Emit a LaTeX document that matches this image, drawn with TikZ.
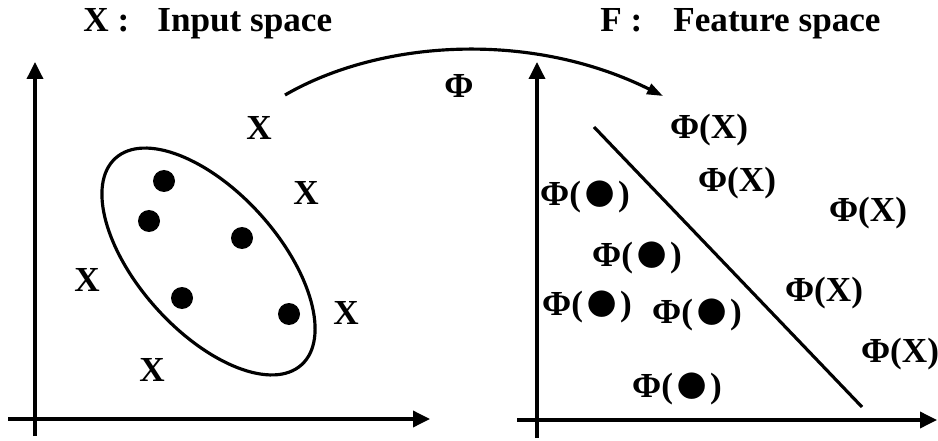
\documentclass[tikz,border=0pt]{standalone}
\usepackage{fontspec}
\setmainfont{Liberation Serif}
\usetikzlibrary{arrows.meta,shapes.geometric}
\tikzset{
  axis/.style={line width=2pt, -{Triangle[length=3.4mm, width=3.2mm]}},
  maparrow/.style={line width=1.8pt, -{Triangle[length=3.2mm, width=2.2mm]}},
  lbl/.style={inner sep=0pt, font=\fontsize{20}{24}\selectfont\bfseries},
  dot/.style={circle, fill=black, inner sep=0pt, minimum size=4.4mm},
  cluster/.style={ellipse, draw, line width=1.8pt, inner sep=0pt, minimum width=5.56cm, minimum height=2.8cm, rotate=-48},
  boundary/.style={line width=1.8pt}
}
\newcommand{\bigdot}{\raisebox{-0.17em}{\scalebox{1.75}{●}}}

\begin{document}
\begin{tikzpicture}[x=0.2mm, y=-0.2mm]
  \useasboundingbox (0,0) rectangle (938,441);
  % titles
  \node[lbl, anchor=base west] (xname) at (83,32) {X :};
  \node[lbl, anchor=base west] (xspace) at (157,32) {Input space};
  \node[lbl, anchor=base west] (fname) at (600,32) {F :};
  \node[lbl, anchor=base west] (fspace) at (673,32) {Feature space};
  % input space
  \coordinate (lx0) at (8,419);
  \coordinate (lx1) at (430,419);
  \coordinate (ly0) at (35,436);
  \coordinate (ly1) at (35,62);
  \draw[axis] (lx0) -- (lx1);
  \draw[axis] (ly0) -- (ly1);
  \node[cluster] (clu) at (208.5,261.5) {};
  \node[dot] (d1) at (164,181) {};
  \node[dot] (d2) at (149,221) {};
  \node[dot] (d3) at (242,238) {};
  \node[dot] (d4) at (182,298) {};
  \node[dot] (d5) at (289,314) {};
  \node[lbl] (x1) at (259,128) {X};
  \node[lbl] (x2) at (306,193) {X};
  \node[lbl] (x3) at (87,280) {X};
  \node[lbl] (x4) at (346,313) {X};
  \node[lbl] (x5) at (152,370) {X};
  % mapping
  \coordinate (mapfrom) at (285,95);
  \coordinate (mapto) at (663,96);
  \draw[maparrow] (mapfrom) .. controls (380,40) and (530,30) .. (mapto);
  \node[lbl] (phi) at (459,86) {Φ};
  % feature space
  \coordinate (rx0) at (517,420);
  \coordinate (rx1) at (937,420);
  \coordinate (ry0) at (537,438);
  \coordinate (ry1) at (537,62);
  \draw[axis] (rx0) -- (rx1);
  \draw[axis] (ry0) -- (ry1);
  \coordinate (sep0) at (594,127);
  \coordinate (sep1) at (862,407);
  \draw[boundary] (sep0) -- (sep1);
  \node[lbl] (pd1) at (585,197) {Φ(\bigdot)};
  \node[lbl] (pd2) at (637,258) {Φ(\bigdot)};
  \node[lbl] (pd3) at (587,307) {Φ(\bigdot)};
  \node[lbl] (pd4) at (697,315) {Φ(\bigdot)};
  \node[lbl] (pd5) at (677,389) {Φ(\bigdot)};
  \node[lbl] (px1) at (709,130) {Φ(X)};
  \node[lbl] (px2) at (737,183) {Φ(X)};
  \node[lbl] (px3) at (868,213) {Φ(X)};
  \node[lbl] (px4) at (824,293) {Φ(X)};
  \node[lbl] (px5) at (900,354) {Φ(X)};
\end{tikzpicture}
\end{document}
